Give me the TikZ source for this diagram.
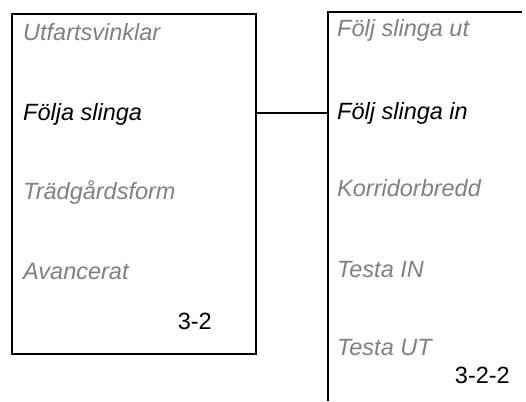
\documentclass[tikz,border=0pt]{standalone}
\usepackage{fontspec}
\setmainfont{Liberation Sans}
\usepackage{xcolor}
\usetikzlibrary{positioning, calc}
\definecolor{menugray}{RGB}{128, 128, 128}

\begin{document}
\begin{tikzpicture}[
  x=1pt, y=1pt,
  every node/.style={font=\fontsize{23.5}{28}\selectfont, inner sep=0pt},
  item/.style={font=\fontsize{23.5}{28}\selectfont\itshape, text=menugray, text height=21pt, text depth=5pt, anchor=base west},
  active/.style={item, text=black},
  code/.style={text=black, anchor=base east},
  frame/.style={draw=black, line width=2pt},
  link/.style={line width=2pt, color=black}
]
  \useasboundingbox (0,0) rectangle (526,401);

  \node[frame, minimum width=244pt, minimum height=340pt, anchor=north west] (menu) at (11,388) {};
  \node[minimum width=194pt, minimum height=389pt, anchor=north west] (sub) at (328,389) {};
  \draw[frame] (sub.north east) -- (sub.north west) -- (sub.south west);

  \node[item] (utfart) at (23, 360.3) {Utfartsvinklar};
  \node[active] (folja) at (23, 280.3) {Följa slinga};
  \node[item] (tradg) at (23, 201) {Trädgårdsform};
  \node[item] (avanc) at (23, 121) {Avancerat};
  \node[code] (menuno) at (212, 71) {3-2};

  \node[item] (utslinga) at (337, 364) {Följ slinga ut};
  \node[active] (inslinga) at (337, 281) {Följ slinga in};
  \node[item] (korr) at (337, 204) {Korridorbredd};
  \node[item] (testin) at (337, 123) {Testa IN};
  \node[item] (testut) at (337, 46) {Testa UT};
  \node[code] (subno) at (510, 18) {3-2-2};

  \draw[link] (menu.east |- folja) -- (sub.west |- folja);

\end{tikzpicture}
\end{document}
